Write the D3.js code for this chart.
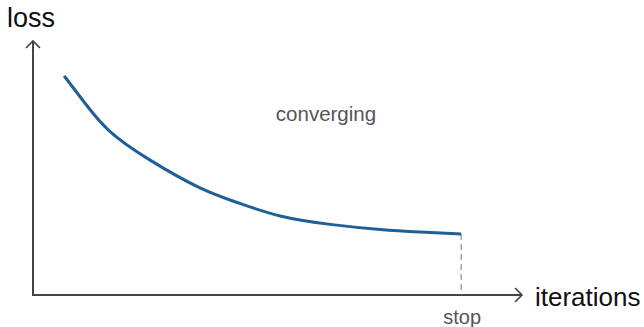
<!DOCTYPE html>
<html><head><meta charset="utf-8">
<script src="https://cdn.jsdelivr.net/npm/d3@7"></script>
<style>html,body{margin:0;padding:0;background:#fff;}svg{display:block;}</style>
</head><body>
<svg id="c" width="644" height="327"></svg>
<script>
const iterations = [6.5, 10.8, 16.0, 24.4, 34.8, 43.1, 51.5, 61.9, 72.3, 80.6, 89.2];
const loss = [0.859, 0.753, 0.642, 0.529, 0.420, 0.359, 0.310, 0.277, 0.257, 0.247, 0.239];
const stopIteration = 89.2;
const labels = {y: "loss", x: "iterations", note: "converging", stop: "stop"};

const svg = d3.select("#c");
const x = d3.scaleLinear().domain([0, 100]).range([33, 513]);
const y = d3.scaleLinear().domain([0, 1]).range([295, 40]);
const axisColor = "#444";

// axes
svg.append("line").attr("x1", x(0)).attr("y1", y(0)).attr("x2", x(0)).attr("y2", y(0) - 254)
  .attr("stroke", axisColor).attr("stroke-width", 2);
svg.append("polyline").attr("points", `${x(0)-7},${48} ${x(0)},${41} ${x(0)+7},${48}`)
  .attr("fill", "none").attr("stroke", axisColor).attr("stroke-width", 1.6);
svg.append("line").attr("x1", x(0) - 1).attr("y1", y(0)).attr("x2", 522).attr("y2", y(0))
  .attr("stroke", axisColor).attr("stroke-width", 2);
svg.append("polyline").attr("points", `${515},${y(0)-7} ${522},${y(0)} ${515},${y(0)+7}`)
  .attr("fill", "none").attr("stroke", axisColor).attr("stroke-width", 1.6);

// dashed stop line
svg.append("line").attr("x1", x(stopIteration)).attr("x2", x(stopIteration))
  .attr("y1", y(loss[loss.length - 1])).attr("y2", y(0))
  .attr("stroke", "#777").attr("stroke-width", 1).attr("stroke-dasharray", "6,4");

// curve
const data = iterations.map((d, i) => [d, loss[i]]);
svg.append("path").datum(data)
  .attr("d", d3.line().x(d => x(d[0])).y(d => y(d[1])).curve(d3.curveNatural))
  .attr("fill", "none").attr("stroke", "#1f5f97").attr("stroke-width", 3);

// texts
const font = "Liberation Sans, Arial, sans-serif";
svg.append("text").attr("x", 7).attr("y", 27).attr("font-family", font).attr("font-size", 27)
  .attr("fill", "#111").text(labels.y);
svg.append("text").attr("x", 535).attr("y", 306).attr("font-family", font).attr("font-size", 26)
  .attr("fill", "#111").text(labels.x);
svg.append("text").attr("x", 326).attr("y", 121).attr("text-anchor", "middle").attr("font-family", font)
  .attr("font-size", 20.5).attr("fill", "#555").text(labels.note);
svg.append("text").attr("x", x(stopIteration) + 1).attr("y", 324).attr("text-anchor", "middle").attr("font-family", font)
  .attr("font-size", 20).attr("fill", "#555").text(labels.stop);
</script>
</body></html>
